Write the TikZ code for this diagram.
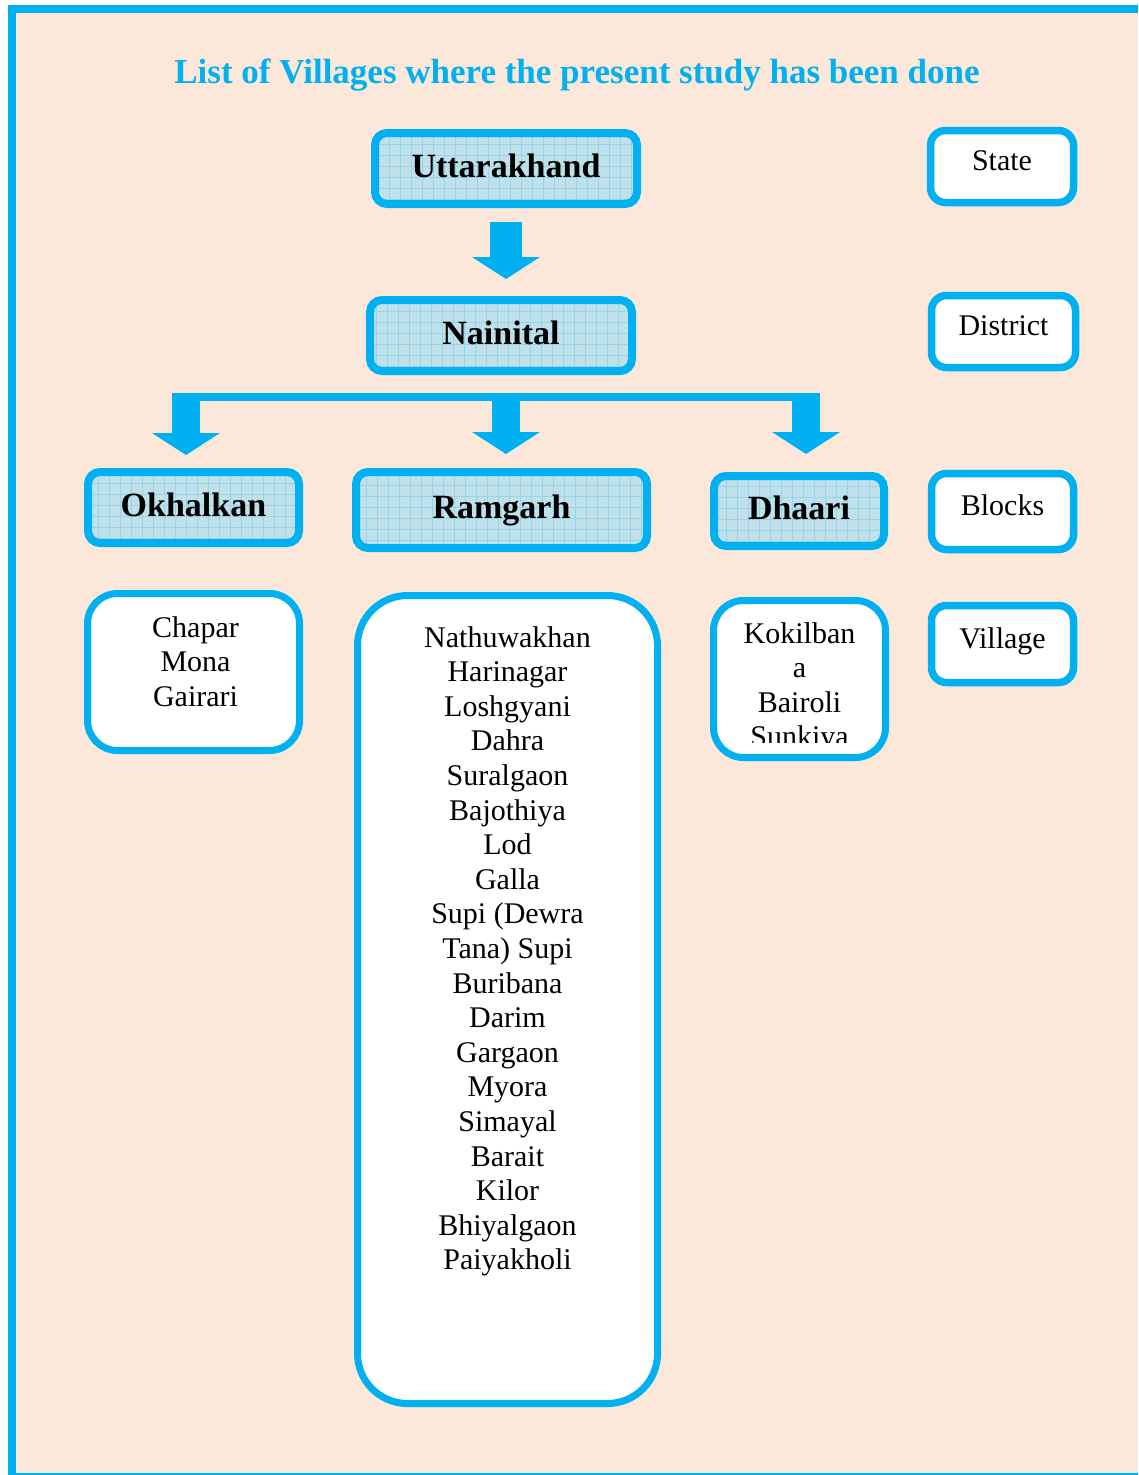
\documentclass[tikz,border=0pt]{standalone}
\usepackage{fontspec}
\setmainfont{Liberation Serif}
\usepackage{tikz}
\usetikzlibrary{arrows.meta,positioning,calc}
\definecolor{boxline}{RGB}{0,176,240}
\definecolor{pagebg}{RGB}{251,232,218}
\definecolor{headbg}{RGB}{192,224,234}
\definecolor{gridline}{RGB}{150,212,238}
\tikzset{
  headbox/.style={
    draw=boxline,
    fill=headbg,
    line width=8pt,
    rounded corners=12pt,
    align=center,
    text height=24pt,
    text depth=7pt,
    font=\fontsize{34}{40}\selectfont\bfseries,
    path picture={\draw[gridline, line width=0.7pt, step=11pt]
      (path picture bounding box.south west) grid (path picture bounding box.north east);}
  },
  keybox/.style={
    draw=boxline,
    fill=white,
    line width=7.5pt,
    rounded corners=15pt,
    align=center,
    text height=21pt,
    text depth=13pt,
    font=\fontsize{30}{34}\selectfont
  },
  villbox/.style={
    draw=boxline,
    fill=white,
    line width=7pt,
    rounded corners=30pt
  },
  villtext/.style={
    anchor=north,
    align=center,
    inner sep=0pt,
    font=\fontsize{30}{34.6}\selectfont
  },
  bigarrow/.style={-{Triangle[width=67pt,length=22pt]}, boxline, line width=30pt},
  barline/.style={boxline, line width=8pt}
}
\begin{document}
\begin{tikzpicture}[x=1pt,y=-1pt]
  \useasboundingbox (0,0) rectangle (1138,1475);
  \fill[white] (0,0) rectangle (1138,1475);
  \fill[pagebg] (12,9) rectangle (1138,1474);
  \draw[boxline, line width=8pt] (12,1475) -- (12,9) -- (1138,9);
  \draw[boxline, line width=2pt] (12,1474) -- (1138,1474);

  \node[text=boxline, font=\fontsize{35}{40}\selectfont\bfseries] (title) at (577,75) {List of Villages where the present study has been done};

  \node[headbox, minimum width=262pt, minimum height=71pt] (utt) at (506,168.5) {Uttarakhand};
  \node[headbox, minimum width=262pt, minimum height=71pt] (nai) at (501,335.5) {Nainital};
  \node[headbox, minimum width=211pt, minimum height=71pt] (okh) at (193.5,507.5) {Okhalkan};
  \node[headbox, minimum width=291pt, minimum height=76pt] (ram) at (501.5,510) {Ramgarh};
  \node[headbox, minimum width=170pt, minimum height=70pt] (dha) at (799,511) {Dhaari};

  \node[keybox, minimum width=143pt, minimum height=72pt] (state) at (1002,166.5) {State};
  \node[keybox, minimum width=144pt, minimum height=72pt] (district) at (1003.5,331.5) {District};
  \node[keybox, minimum width=142pt, minimum height=76pt] (blocks) at (1002.5,511.5) {Blocks};
  \node[keybox, minimum width=142pt, minimum height=77pt] (village) at (1002.5,644) {Village};

  \node[villbox, minimum width=212pt, minimum height=157pt] (okhv) at (193.5,672) {};
  \node[villbox, minimum width=300pt, minimum height=808pt, rounded corners=50pt] (ramv) at (507.5,999.5) {};
  \node[villbox, minimum width=172pt, minimum height=157pt] (dhav) at (799.5,679) {};

  \node[villtext] (okhlist) at ([xshift=2pt, yshift=-26pt]okhv.north) {Chapar\\Mona\\Gairari};
  \node[villtext] (ramlist) at ([yshift=-34pt]ramv.north) {Nathuwakhan\\Harinagar\\Loshgyani\\Dahra\\Suralgaon\\Bajothiya\\Lod\\Galla\\Supi (Dewra\\Tana) Supi\\Buribana\\Darim\\Gargaon\\Myora\\Simayal\\Barait\\Kilor\\Bhiyalgaon\\Paiyakholi};
  \begin{scope}
    \clip (dhav.north west) rectangle ([yshift=19pt]dhav.south east);
    \node[villtext] (dhalist) at ([yshift=-25pt]dhav.north) {Kokilban\\a\\Bairoli\\Sunkiya};
  \end{scope}

  \coordinate (forkL) at (186,397);
  \coordinate (forkM) at (506,397);
  \coordinate (forkR) at (806,397);
  \draw[bigarrow, line width=32pt, shorten <=14pt, shorten >=17pt] (utt.south) -- (utt.south |- nai.north);
  \draw[barline] ([xshift=-14pt]forkL) -- ([xshift=14pt]forkR);
  \draw[bigarrow, line width=28pt, shorten >=13pt] ([yshift=4pt]forkL) -- (forkL |- okh.north);
  \draw[bigarrow, line width=28pt, shorten >=14pt] ([yshift=4pt]forkM) -- (forkM |- ram.north);
  \draw[bigarrow, line width=28pt, shorten >=18pt] ([yshift=4pt]forkR) -- (forkR |- dha.north);
\end{tikzpicture}
\end{document}
